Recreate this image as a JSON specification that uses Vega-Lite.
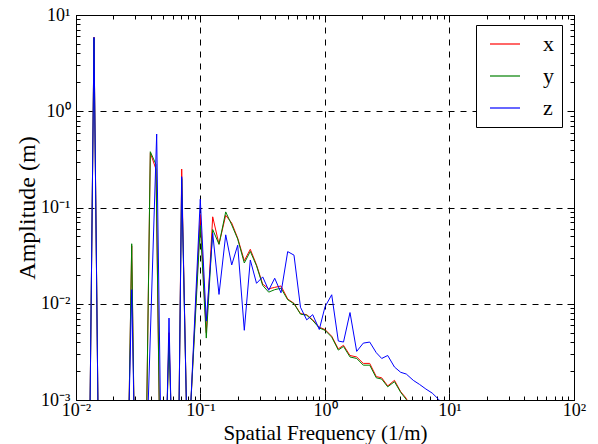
{
  "$schema": "https://vega.github.io/schema/vega-lite/v6.json",
  "width": 498,
  "height": 385,
  "autosize": {"type": "none"},
  "padding": {"left": 76, "top": 15, "right": 24, "bottom": 44},
  "background": "white",
  "config": {
    "view": {"stroke": "black", "strokeWidth": 1},
    "font": "Liberation Serif"
  },
  "data": {
    "values": [
      {"f": 0.01296, "a": 0.0008, "s": "x"}, {"f": 0.01395, "a": 5.9, "s": "x"}, {"f": 0.01502, "a": 0.0008, "s": "x"},
      {"f": 0.02665, "a": 0.0008, "s": "x"}, {"f": 0.02802, "a": 0.04, "s": "x"}, {"f": 0.02922, "a": 0.0008, "s": "x"},
      {"f": 0.03698, "a": 0.0008, "s": "x"}, {"f": 0.03953, "a": 0.37, "s": "x"}, {"f": 0.04391, "a": 0.25, "s": "x"},
      {"f": 0.04667, "a": 0.0008, "s": "x"}, {"f": 0.05383, "a": 0.0008, "s": "x"}, {"f": 0.05585, "a": 0.005, "s": "x"},
      {"f": 0.05796, "a": 0.0008, "s": "x"}, {"f": 0.06722, "a": 0.0008, "s": "x"}, {"f": 0.07063, "a": 0.251, "s": "x"},
      {"f": 0.0772, "a": 0.0008, "s": "x"}, {"f": 0.08313, "a": 0.0008, "s": "x"}, {"f": 0.0996, "a": 0.085, "s": "x"},
      {"f": 0.1113, "a": 0.005, "s": "x"}, {"f": 0.1253, "a": 0.08, "s": "x"}, {"f": 0.1408, "a": 0.0415, "s": "x"},
      {"f": 0.1594, "a": 0.083, "s": "x"}, {"f": 0.1781, "a": 0.069, "s": "x"}, {"f": 0.199, "a": 0.048, "s": "x"},
      {"f": 0.2248, "a": 0.028, "s": "x"}, {"f": 0.2512, "a": 0.0368, "s": "x"}, {"f": 0.2818, "a": 0.0253, "s": "x"},
      {"f": 0.3159, "a": 0.016, "s": "x"}, {"f": 0.353, "a": 0.0143, "s": "x"}, {"f": 0.3945, "a": 0.0148, "s": "x"},
      {"f": 0.4432, "a": 0.0153, "s": "x"}, {"f": 0.5016, "a": 0.0112, "s": "x"}, {"f": 0.5636, "a": 0.0101, "s": "x"},
      {"f": 0.6355, "a": 0.0079, "s": "x"}, {"f": 0.7129, "a": 0.0077, "s": "x"}, {"f": 0.7966, "a": 0.0068, "s": "x"},
      {"f": 0.9, "a": 0.0057, "s": "x"}, {"f": 1.0, "a": 0.0054, "s": "x"}, {"f": 1.132, "a": 0.0046, "s": "x"},
      {"f": 1.279, "a": 0.0034, "s": "x"}, {"f": 1.408, "a": 0.0037, "s": "x"}, {"f": 1.588, "a": 0.0029, "s": "x"},
      {"f": 1.797, "a": 0.0028, "s": "x"}, {"f": 2.03, "a": 0.0024, "s": "x"}, {"f": 2.286, "a": 0.0024, "s": "x"},
      {"f": 2.582, "a": 0.00175, "s": "x"}, {"f": 2.854, "a": 0.0017, "s": "x"}, {"f": 3.188, "a": 0.0014, "s": "x"},
      {"f": 3.615, "a": 0.0016, "s": "x"}, {"f": 4.055, "a": 0.00122, "s": "x"}, {"f": 4.498, "a": 0.00104, "s": "x"},
      {"f": 5.12, "a": 0.0007, "s": "x"},

      {"f": 0.01296, "a": 0.0008, "s": "y"}, {"f": 0.01395, "a": 5.8, "s": "y"}, {"f": 0.01502, "a": 0.0008, "s": "y"},
      {"f": 0.02665, "a": 0.0008, "s": "y"}, {"f": 0.02802, "a": 0.042, "s": "y"}, {"f": 0.02922, "a": 0.0008, "s": "y"},
      {"f": 0.03698, "a": 0.0008, "s": "y"}, {"f": 0.03953, "a": 0.38, "s": "y"}, {"f": 0.04391, "a": 0.28, "s": "y"},
      {"f": 0.04667, "a": 0.0008, "s": "y"}, {"f": 0.05383, "a": 0.0008, "s": "y"}, {"f": 0.05585, "a": 0.004, "s": "y"},
      {"f": 0.05796, "a": 0.0008, "s": "y"}, {"f": 0.06722, "a": 0.0008, "s": "y"}, {"f": 0.07063, "a": 0.2, "s": "y"},
      {"f": 0.0772, "a": 0.0008, "s": "y"}, {"f": 0.08313, "a": 0.0008, "s": "y"}, {"f": 0.0996, "a": 0.065, "s": "y"},
      {"f": 0.1113, "a": 0.0044, "s": "y"}, {"f": 0.1253, "a": 0.059, "s": "y"}, {"f": 0.1408, "a": 0.0415, "s": "y"},
      {"f": 0.1594, "a": 0.09, "s": "y"}, {"f": 0.1781, "a": 0.066, "s": "y"}, {"f": 0.199, "a": 0.047, "s": "y"},
      {"f": 0.2248, "a": 0.0265, "s": "y"}, {"f": 0.2512, "a": 0.035, "s": "y"}, {"f": 0.2818, "a": 0.0248, "s": "y"},
      {"f": 0.3159, "a": 0.0155, "s": "y"}, {"f": 0.353, "a": 0.0132, "s": "y"}, {"f": 0.3945, "a": 0.014, "s": "y"},
      {"f": 0.4432, "a": 0.0145, "s": "y"}, {"f": 0.5016, "a": 0.011, "s": "y"}, {"f": 0.5636, "a": 0.01, "s": "y"},
      {"f": 0.6355, "a": 0.0078, "s": "y"}, {"f": 0.7129, "a": 0.0076, "s": "y"}, {"f": 0.7966, "a": 0.0067, "s": "y"},
      {"f": 0.9, "a": 0.0056, "s": "y"}, {"f": 1.0, "a": 0.0053, "s": "y"}, {"f": 1.132, "a": 0.0045, "s": "y"},
      {"f": 1.279, "a": 0.0033, "s": "y"}, {"f": 1.408, "a": 0.0036, "s": "y"}, {"f": 1.588, "a": 0.0028, "s": "y"},
      {"f": 1.797, "a": 0.0027, "s": "y"}, {"f": 2.03, "a": 0.0023, "s": "y"}, {"f": 2.286, "a": 0.0023, "s": "y"},
      {"f": 2.582, "a": 0.0017, "s": "y"}, {"f": 2.854, "a": 0.00165, "s": "y"}, {"f": 3.188, "a": 0.00137, "s": "y"},
      {"f": 3.615, "a": 0.00155, "s": "y"}, {"f": 4.055, "a": 0.0012, "s": "y"}, {"f": 4.498, "a": 0.00101, "s": "y"},
      {"f": 5.12, "a": 0.0007, "s": "y"},

      {"f": 0.01296, "a": 0.0008, "s": "z"}, {"f": 0.01395, "a": 5.86, "s": "z"}, {"f": 0.01502, "a": 0.0008, "s": "z"},
      {"f": 0.02665, "a": 0.0008, "s": "z"}, {"f": 0.02802, "a": 0.014, "s": "z"}, {"f": 0.02922, "a": 0.0008, "s": "z"},
      {"f": 0.03788, "a": 0.0008, "s": "z"}, {"f": 0.04446, "a": 0.58, "s": "z"}, {"f": 0.04771, "a": 0.0008, "s": "z"},
      {"f": 0.05383, "a": 0.0008, "s": "z"}, {"f": 0.05585, "a": 0.0071, "s": "z"}, {"f": 0.05796, "a": 0.0008, "s": "z"},
      {"f": 0.06722, "a": 0.0008, "s": "z"}, {"f": 0.07063, "a": 0.209, "s": "z"}, {"f": 0.0772, "a": 0.0008, "s": "z"},
      {"f": 0.08313, "a": 0.0008, "s": "z"}, {"f": 0.0996, "a": 0.122, "s": "z"}, {"f": 0.1113, "a": 0.0066, "s": "z"},
      {"f": 0.1253, "a": 0.054, "s": "z"}, {"f": 0.1408, "a": 0.0125, "s": "z"}, {"f": 0.1594, "a": 0.052, "s": "z"},
      {"f": 0.1781, "a": 0.0253, "s": "z"}, {"f": 0.199, "a": 0.0406, "s": "z"}, {"f": 0.2248, "a": 0.0053, "s": "z"},
      {"f": 0.2512, "a": 0.0285, "s": "z"}, {"f": 0.2818, "a": 0.0163, "s": "z"}, {"f": 0.3159, "a": 0.019, "s": "z"},
      {"f": 0.353, "a": 0.0138, "s": "z"}, {"f": 0.3945, "a": 0.0184, "s": "z"}, {"f": 0.4432, "a": 0.013, "s": "z"},
      {"f": 0.5016, "a": 0.0348, "s": "z"}, {"f": 0.5636, "a": 0.032, "s": "z"}, {"f": 0.6355, "a": 0.0092, "s": "z"},
      {"f": 0.7129, "a": 0.0068, "s": "z"}, {"f": 0.7966, "a": 0.0077, "s": "z"}, {"f": 0.9, "a": 0.0054, "s": "z"},
      {"f": 1.0, "a": 0.0093, "s": "z"}, {"f": 1.132, "a": 0.0124, "s": "z"}, {"f": 1.279, "a": 0.0041, "s": "z"},
      {"f": 1.408, "a": 0.004, "s": "z"}, {"f": 1.588, "a": 0.0081, "s": "z"}, {"f": 1.797, "a": 0.0032, "s": "z"},
      {"f": 2.03, "a": 0.0039, "s": "z"}, {"f": 2.286, "a": 0.004, "s": "z"}, {"f": 2.582, "a": 0.0031, "s": "z"},
      {"f": 2.854, "a": 0.0027, "s": "z"}, {"f": 3.188, "a": 0.0029, "s": "z"}, {"f": 3.615, "a": 0.0022, "s": "z"},
      {"f": 4.055, "a": 0.00194, "s": "z"}, {"f": 4.498, "a": 0.00186, "s": "z"}, {"f": 5.12, "a": 0.0016, "s": "z"},
      {"f": 5.752, "a": 0.00145, "s": "z"}, {"f": 6.463, "a": 0.0013, "s": "z"}, {"f": 7.261, "a": 0.00118, "s": "z"},
      {"f": 8.156, "a": 0.00102, "s": "z"}, {"f": 9.204, "a": 0.00085, "s": "z"}
    ]
  },
  "layer": [
    {
      "mark": {"type": "line", "strokeWidth": 1, "clip": true},
      "encoding": {
        "x": {
          "field": "f", "type": "quantitative",
          "scale": {"type": "log", "domain": [0.01, 100]},
          "axis": {
            "orient": "bottom",
            "values": [0.01,0.02,0.03,0.04,0.05,0.06,0.07,0.08,0.09,0.1,0.2,0.3,0.4,0.5,0.6,0.7,0.8,0.9,1,2,3,4,5,6,7,8,9,10,20,30,40,50,60,70,80,90,100],
            "labelExpr": "abs(log(datum.value)/LN10 - round(log(datum.value)/LN10)) > 0.000001 ? '' : (round(log(datum.value)/LN10) == -3 ? '10⁻³' : round(log(datum.value)/LN10) == -2 ? '10⁻²' : round(log(datum.value)/LN10) == -1 ? '10⁻¹' : round(log(datum.value)/LN10) == 0 ? '10⁰' : round(log(datum.value)/LN10) == 1 ? '10¹' : '10²')",
            "grid": true,
            "gridColor": "black",
            "gridDash": [6, 6],
            "gridWidth": 1,
            "gridOpacity": {"condition": {"test": "abs(log(datum.value)/LN10 - round(log(datum.value)/LN10)) < 0.000001", "value": 1}, "value": 0},
            "tickSize": {"condition": {"test": "abs(log(datum.value)/LN10 - round(log(datum.value)/LN10)) < 0.000001", "value": -7}, "value": -4},
            "tickColor": "black",
            "domain": false,
            "labelFlush": false,
            "labelOverlap": false,
            "labelFontSize": 18,
            "labelColor": "black",
            "labelPadding": 8,
            "title": "Spatial Frequency (1/m)",
            "titleFontSize": 21,
            "titleFontWeight": "normal",
            "titleColor": "black",
            "titlePadding": 0
          }
        },
        "y": {
          "field": "a", "type": "quantitative",
          "scale": {"type": "log", "domain": [0.001, 10]},
          "axis": {
            "orient": "left",
            "values": [0.001,0.002,0.003,0.004,0.005,0.006,0.007,0.008,0.009,0.01,0.02,0.03,0.04,0.05,0.06,0.07,0.08,0.09,0.1,0.2,0.3,0.4,0.5,0.6,0.7,0.8,0.9,1,2,3,4,5,6,7,8,9,10],
            "labelExpr": "abs(log(datum.value)/LN10 - round(log(datum.value)/LN10)) > 0.000001 ? '' : (round(log(datum.value)/LN10) == -3 ? '10⁻³' : round(log(datum.value)/LN10) == -2 ? '10⁻²' : round(log(datum.value)/LN10) == -1 ? '10⁻¹' : round(log(datum.value)/LN10) == 0 ? '10⁰' : round(log(datum.value)/LN10) == 1 ? '10¹' : '10²')",
            "grid": true,
            "gridColor": "black",
            "gridDash": [6, 6],
            "gridWidth": 1,
            "gridOpacity": {"condition": {"test": "abs(log(datum.value)/LN10 - round(log(datum.value)/LN10)) < 0.000001", "value": 1}, "value": 0},
            "tickSize": {"condition": {"test": "abs(log(datum.value)/LN10 - round(log(datum.value)/LN10)) < 0.000001", "value": -7}, "value": -4},
            "tickColor": "black",
            "domain": false,
            "labelFlush": false,
            "labelOverlap": false,
            "labelFontSize": 18,
            "labelColor": "black",
            "labelPadding": 13,
            "title": "Amplitude (m)",
            "titleFontSize": 24,
            "titleFontWeight": "normal",
            "titleColor": "black",
            "titlePadding": 1
          }
        },
        "color": {
          "field": "s", "type": "nominal",
          "scale": {"domain": ["x", "y", "z"], "range": ["#ff0000", "#008000", "#0000ff"]},
          "legend": {
            "orient": "none",
            "legendX": 400,
            "legendY": 10,
            "title": null,
            "symbolType": "M-0.5,0H2.5",
            "symbolSize": 400,
            "symbolStrokeWidth": 1.2,
            "rowPadding": 10,
            "padding": 8,
            "labelOffset": 37,
            "labelFontSize": 22,
            "labelFont": "Liberation Serif",
            "labelColor": "black",
            "strokeColor": "black",
            "fillColor": "white",
            "cornerRadius": 0
          }
        }
      }
    },
    {
      "mark": {"type": "line", "opacity": 0},
      "encoding": {
        "x": {
          "field": "f", "type": "quantitative",
          "axis": {
            "orient": "top",
            "values": [0.01,0.02,0.03,0.04,0.05,0.06,0.07,0.08,0.09,0.1,0.2,0.3,0.4,0.5,0.6,0.7,0.8,0.9,1,2,3,4,5,6,7,8,9,10,20,30,40,50,60,70,80,90,100],
            "labels": false,
            "grid": false,
            "domain": false,
            "title": null,
            "tickColor": "black",
            "tickSize": {"condition": {"test": "abs(log(datum.value)/LN10 - round(log(datum.value)/LN10)) < 0.000001", "value": -7}, "value": -4}
          }
        },
        "y": {
          "field": "a", "type": "quantitative",
          "axis": {
            "orient": "right",
            "values": [0.001,0.002,0.003,0.004,0.005,0.006,0.007,0.008,0.009,0.01,0.02,0.03,0.04,0.05,0.06,0.07,0.08,0.09,0.1,0.2,0.3,0.4,0.5,0.6,0.7,0.8,0.9,1,2,3,4,5,6,7,8,9,10],
            "labels": false,
            "grid": false,
            "domain": false,
            "title": null,
            "tickColor": "black",
            "tickSize": {"condition": {"test": "abs(log(datum.value)/LN10 - round(log(datum.value)/LN10)) < 0.000001", "value": -7}, "value": -4}
          }
        },
        "detail": {"field": "s", "type": "nominal"}
      }
    }
  ],
  "resolve": {"axis": {"x": "independent", "y": "independent"}}
}
